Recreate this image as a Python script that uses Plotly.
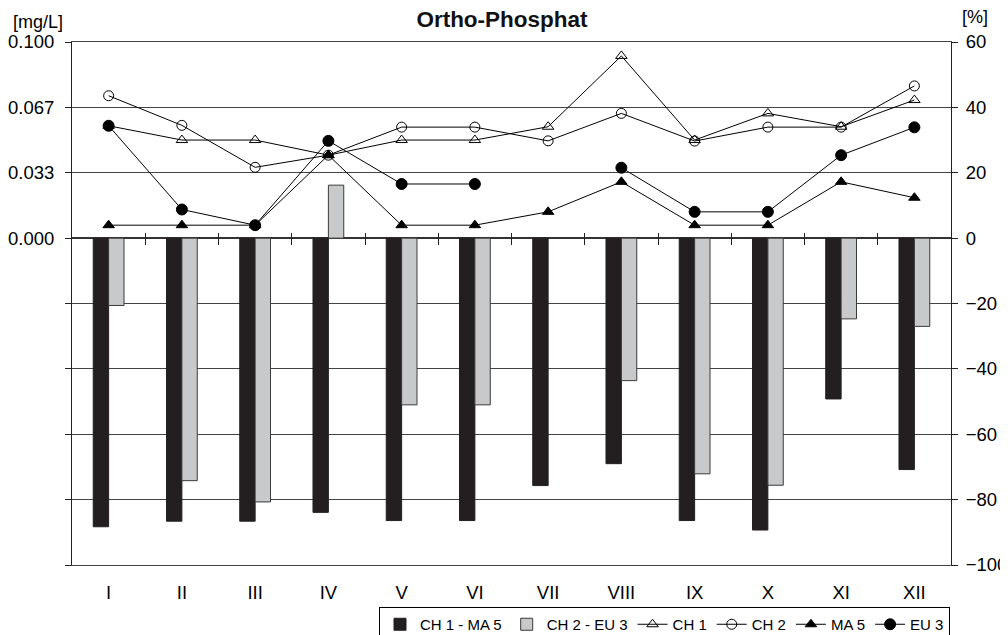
import plotly.graph_objects as go

months = ["I", "II", "III", "IV", "V", "VI", "VII", "VIII", "IX", "X", "XI", "XII"]

# bars, percent (right axis)
ch1_ma5 = [-88.3, -86.6, -86.6, -83.9, -86.4, -86.4, -75.7, -69.0, -86.4, -89.3, -49.2, -70.8]
ch2_eu3 = [-20.6, -74.2, -80.7, 16.2, -51.0, -51.0, None, -43.6, -72.1, -75.6, -24.7, -27.0]

# lines, mg/L (left axis)
ch1 = [0.0573, 0.0500, 0.0500, 0.0423, 0.0500, 0.0500, 0.0568, 0.0929, 0.0500, 0.0636, 0.0568, 0.0704]
ch2 = [0.0726, 0.0575, 0.0361, 0.0423, 0.0566, 0.0566, 0.0496, 0.0636, 0.0495, 0.0566, 0.0566, 0.0776]
ma5 = [0.0066, 0.0066, 0.0066, 0.0423, 0.0066, 0.0066, 0.0134, 0.0287, 0.0066, 0.0066, 0.0287, 0.0206]
eu3 = [0.0573, 0.0146, 0.0066, 0.0496, 0.0276, 0.0276, None, 0.0359, 0.0134, 0.0134, 0.0423, 0.0565]

pct_ticks = [-100, -80, -60, -40, -20, 0, 20, 40, 60]
mg_ticks = [v / 600 for v in pct_ticks]
mg_text = ["", "", "", "", "", "0.000", "0.033", "0.067", "0.100"]
boundaries = [i + 0.5 for i in range(len(months) - 1)]

FONT = "Liberation Sans, Arial, Helvetica, sans-serif"

# the page body has an 8px margin: figure is sized / laid out to compensate
OFF = 8
W, H = 1008 - OFF, 635 - OFF
plot_left, plot_right = 72 - OFF, 951 - OFF
plot_top, plot_bottom = 42 - OFF, 565 - OFF
plot_w = plot_right - plot_left
plot_h = plot_bottom - plot_top
zero_px = 238 - OFF


def px(xs):
    return (xs - OFF - plot_left) / plot_w


def py(ys):
    return (plot_bottom - (ys - OFF)) / plot_h


fig = go.Figure()
fig.add_trace(go.Bar(x=months, y=ch1_ma5, name="CH 1 - MA 5", yaxis="y",
                     marker=dict(color="#231f20", line=dict(color="#231f20", width=1))))
fig.add_trace(go.Bar(x=months, y=ch2_eu3, name="CH 2 - EU 3", yaxis="y",
                     marker=dict(color="#c8c9cb", line=dict(color="#3a3a3a", width=1))))

line_specs = [
    ("CH 1", ch1, "triangle-up-open", 10),
    ("CH 2", ch2, "circle-open", 10),
    ("MA 5", ma5, "triangle-up", 10),
    ("EU 3", eu3, "circle", 11),
]
for name, vals, sym, size in line_specs:
    fig.add_trace(go.Scatter(x=months, y=vals, name=name, yaxis="y2", mode="lines+markers",
                             connectgaps=False,
                             line=dict(color="black", width=1),
                             marker=dict(symbol=sym, size=size, color="black",
                                         line=dict(color="black", width=1))))

# helper (invisible) trace so the category-boundary tick axis is drawn
fig.add_trace(go.Scatter(x=[-0.5, 11.5], y=[None, None], xaxis="x2", yaxis="y",
                         mode="lines", showlegend=False, hoverinfo="skip"))

fig.update_layout(
    width=W, height=H,
    margin=dict(l=plot_left, r=W - plot_right, t=plot_top, b=H - plot_bottom, autoexpand=False),
    plot_bgcolor="white", paper_bgcolor="white",
    font=dict(family=FONT, color="black", size=18.5),
    title=dict(text="<b>Ortho-Phosphat</b>", font=dict(size=22.5, family=FONT, color="#111"),
               xref="container", x=(502 - OFF) / W, xanchor="center",
               yref="container", y=1 - 3 / H, yanchor="top", pad=dict(t=0, b=0)),
    barmode="group", bargap=0.58, bargroupgap=0.0,
    showlegend=True,
    legend=dict(orientation="h", x=px(950), xanchor="right", y=py(607), yanchor="top",
                bordercolor="black", borderwidth=1, bgcolor="white",
                font=dict(size=15, family=FONT), traceorder="normal",
                itemwidth=30, tracegroupgap=0),
    xaxis=dict(type="category", categoryorder="array", categoryarray=months,
               range=[-0.5, 11.5], showline=True, mirror=True, linecolor="#444", linewidth=1,
               ticks="", showgrid=False, zeroline=False, automargin=False,
               tickfont=dict(size=18.5), ticklabelstandoff=11),
    xaxis2=dict(overlaying="x", anchor="free",
                position=(plot_bottom - (zero_px - 6)) / plot_h,
                type="linear", range=[-0.5, 11.5], tickmode="array", tickvals=boundaries,
                ticks="outside", ticklen=12, tickcolor="#222", tickwidth=1,
                showticklabels=False, showline=False, showgrid=False, zeroline=False),
    yaxis=dict(side="right", range=[-100, 60], tickmode="array", tickvals=pct_ticks,
               showgrid=True, gridcolor="#444", gridwidth=1,
               zeroline=True, zerolinecolor="#333", zerolinewidth=1.5,
               showline=True, linecolor="#222", linewidth=1, automargin=False,
               ticks="outside", ticklen=6, tickcolor="#222",
               tickfont=dict(size=18.5), ticklabelstandoff=4),
    yaxis2=dict(overlaying="y", side="left", range=[-1 / 6, 0.1], tickmode="array",
                tickvals=mg_ticks, ticktext=mg_text,
                showgrid=False, zeroline=False, automargin=False,
                showline=True, linecolor="#222", linewidth=1,
                ticks="outside", ticklen=6, tickcolor="#222",
                tickfont=dict(size=18.5), ticklabelstandoff=7),
    annotations=[
        dict(text="[mg/L]", xref="paper", yref="paper", x=px(38), y=py(22),
             xanchor="center", yanchor="middle",
             showarrow=False, font=dict(size=18, family=FONT)),
        dict(text="[%]", xref="paper", yref="paper", x=px(975), y=py(17),
             xanchor="center", yanchor="middle",
             showarrow=False, font=dict(size=18, family=FONT)),
    ],
)

fig.write_html("out.html")
